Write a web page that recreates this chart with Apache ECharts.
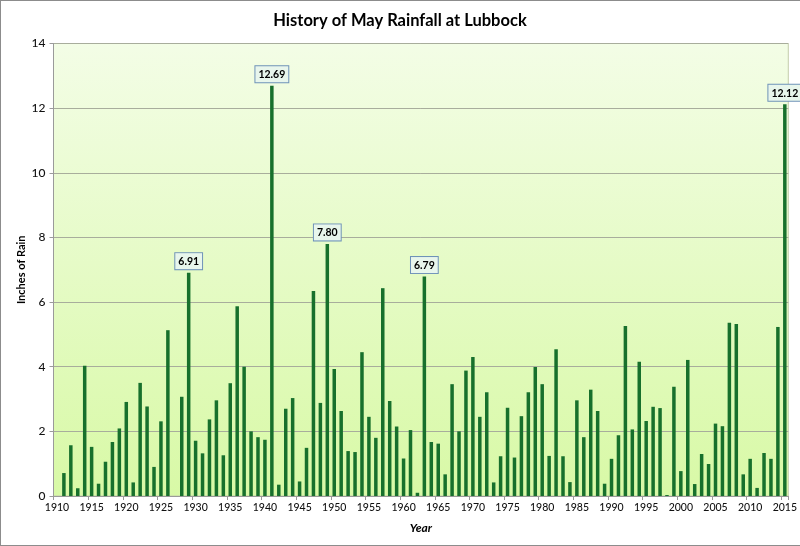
<!DOCTYPE html>
<html>
<head>
<meta charset="utf-8">
<title>History of May Rainfall at Lubbock</title>
<script src="https://cdn.jsdelivr.net/npm/echarts@6/dist/echarts.min.js"></script>
<style>
html,body{margin:0;padding:0;background:#fff;}
#chart{position:absolute;left:0;top:0;width:800px;height:546px;}
#frame{position:absolute;left:0;top:0;width:800px;height:546px;box-sizing:border-box;
  border:solid #8c8c8c;border-width:1.5px 0 1.5px 1.5px;pointer-events:none;}
</style>
</head>
<body>
<div id="chart"></div>
<div id="frame"></div>
<script>
var years = [];
for (var y = 1910; y <= 2015; y++) { years.push(String(y)); }

// inches of rain, 1910 has no bar and 1927 reads as zero
var rain1910s = [null, 0.71, 1.57, 0.24, 4.03, 1.52, 0.38, 1.06, 1.67, 2.09];
var rain1920s = [2.91, 0.42, 3.50, 2.77, 0.90, 2.31, 5.13, 0, 3.07, 6.91];
var rain1930s = [1.71, 1.32, 2.37, 2.96, 1.26, 3.49, 5.87, 4.00, 2.00, 1.82];
var rain1940s = [1.74, 12.69, 0.35, 2.70, 3.03, 0.45, 1.49, 6.34, 2.88, 7.80];
var rain1950s = [3.93, 2.63, 1.39, 1.36, 4.45, 2.45, 1.80, 6.43, 2.94, 2.15];
var rain1960s = [1.16, 2.04, 0.10, 6.79, 1.67, 1.62, 0.67, 3.46, 2.00, 3.88];
var rain1970s = [4.30, 2.45, 3.21, 0.42, 1.23, 2.73, 1.19, 2.47, 3.21, 3.99];
var rain1980s = [3.46, 1.24, 4.54, 1.23, 0.43, 2.96, 1.82, 3.29, 2.63, 0.38];
var rain1990s = [1.15, 1.88, 5.26, 2.06, 4.15, 2.32, 2.76, 2.72, 0.03, 3.38];
var rain2000s = [0.77, 4.21, 0.37, 1.30, 0.99, 2.24, 2.16, 5.36, 5.32, 0.67];
var rain2010s = [1.15, 0.25, 1.33, 1.15, 5.23, 12.12];

var rainfall = [].concat(rain1910s, rain1920s, rain1930s, rain1940s, rain1950s,
    rain1960s, rain1970s, rain1980s, rain1990s, rain2000s, rain2010s);

var labeledYears = ['1929', '1941', '1949', '1963', '2015'];

var seriesData = [];
for (var i = 0; i < years.length; i++) {
    var item = { value: rainfall[i] };
    if (labeledYears.indexOf(years[i]) >= 0) {
        item.label = { show: true };
    }
    seriesData.push(item);
}

var fontName = 'Lato, "Open Sans", sans-serif';

var myChart = echarts.init(document.getElementById('chart'));
var option = {
    animation: false,
    backgroundColor: '#ffffff',
    title: {
        text: 'History of May Rainfall at Lubbock',
        left: 395,
        top: 7,
        textAlign: 'center',
        textStyle: { fontFamily: fontName, fontSize: 16.5, fontWeight: 'bold', color: '#000000' }
    },
    grid: {
        show: true,
        left: 53.5,
        right: 11,
        top: 43.5,
        bottom: 50,
        borderColor: '#c4ccaa',
        borderWidth: 1,
        backgroundColor: new echarts.graphic.LinearGradient(0, 0, 0, 1, [
            { offset: 0, color: '#f3fde6' },
            { offset: 1, color: '#d8f9a6' }
        ])
    },
    xAxis: {
        type: 'category',
        data: years,
        name: 'Year',
        nameLocation: 'middle',
        nameGap: 26,
        nameTextStyle: { fontFamily: fontName, fontSize: 12, fontWeight: 'bold', fontStyle: 'italic', color: '#000000' },
        axisLine: { show: true, lineStyle: { color: '#9a9a9a', width: 1 } },
        axisTick: { show: true, interval: 4, alignWithLabel: false, length: 4, lineStyle: { color: '#9a9a9a' } },
        axisLabel: { interval: 4, margin: 6, fontFamily: fontName, fontSize: 10.5, fontWeight: 500, color: '#111111' },
        splitLine: { show: false }
    },
    yAxis: {
        type: 'value',
        min: 0,
        max: 14,
        interval: 2,
        name: 'Inches of Rain',
        nameLocation: 'middle',
        nameGap: 27,
        nameMoveOverlap: false,
        nameTextStyle: { fontFamily: fontName, fontSize: 11, fontWeight: 'bold', color: '#000000' },
        axisLine: { show: true, lineStyle: { color: '#9a9a9a', width: 1 } },
        axisTick: { show: true, length: 4, lineStyle: { color: '#9a9a9a' } },
        axisLabel: { margin: 8, fontFamily: fontName, fontSize: 12, fontWeight: 500, color: '#111111' },
        splitLine: { show: true, lineStyle: { color: '#a8ad9c', width: 1 } }
    },
    series: [{
        name: 'May Rainfall',
        type: 'bar',
        barWidth: 3.5,
        itemStyle: { color: '#17702c' },
        label: {
            show: false,
            position: 'top',
            distance: 3.5,
            formatter: function (p) { return p.value.toFixed(2); },
            fontFamily: fontName,
            fontSize: 10.5,
            fontWeight: 'bold',
            color: '#000000',
            backgroundColor: '#e8f6ec',
            borderColor: '#6f93b8',
            borderWidth: 1,
            padding: [3, 3, 2, 3]
        },
        data: seriesData
    }]
};
myChart.setOption(option);
</script>
</body>
</html>
